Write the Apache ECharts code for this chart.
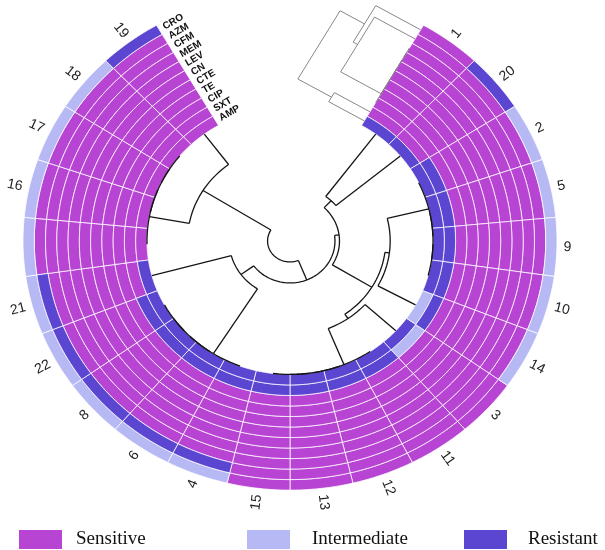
<!DOCTYPE html>
<html><head><meta charset="utf-8">
<script src="https://cdn.jsdelivr.net/npm/echarts@6/dist/echarts.min.js"></script>
<style>html,body{margin:0;padding:0;background:#fff}#c{width:605px;height:550px}</style>
</head><body><div id="c"></div>
<script>
// ---------- DATA ----------
const samples = ['1','20','2','5','9','10','14','3','11','12','13','15','4','6','8','22','21','7','16','17','18','19'];
const hiddenLabels = ['7'];
const antibiotics = ['CRO','AZM','CFM','MEM','LEV','CN','CTE','TE','CIP','SXT','AMP']; // outer -> inner
const statusNames = {S:'Sensitive', I:'Intermediate', R:'Resistant'};
const CRO = ['S','R','I','I','I','I','I','S','S','S','S','S','I','I','I','I','I','I','I','I','I','R'];
const AZM = ['S','S','S','S','S','S','S','S','S','S','S','S','R','R','R','R','R','S','S','S','S','S'];
const CFM = ['S','S','S','S','S','S','S','S','S','S','S','S','S','S','S','S','S','S','S','S','S','S'];
const MEM = ['S','S','S','S','S','S','S','S','S','S','S','S','S','S','S','S','S','S','S','S','S','S'];
const LEV = ['S','S','S','S','S','S','S','S','S','S','S','S','S','S','S','S','S','S','S','S','S','S'];
const CN  = ['S','S','S','S','S','S','S','S','S','S','S','S','S','S','S','S','S','S','S','S','S','S'];
const CTE = ['S','S','S','S','S','S','S','S','S','S','S','S','S','S','S','S','S','S','S','S','S','S'];
const TE  = ['S','S','S','S','S','S','S','S','S','S','S','S','S','S','S','S','S','S','S','S','S','S'];
const CIP = ['S','S','S','S','S','S','S','S','S','S','S','S','S','S','S','S','S','S','S','S','S','S'];
const SXT = ['S','S','R','R','R','R','R','I','R','R','R','R','R','R','R','R','S','S','S','S','S','S'];
const AMP = ['R','R','R','R','R','R','I','R','R','R','R','R','R','R','R','R','R','S','S','S','S','S'];
const ringArrays = [CRO, AZM, CFM, MEM, LEV, CN, CTE, TE, CIP, SXT, AMP];

// dendrograms: [mergeHeight, left, right]; leaves are names
const sampleTree = [10.7,
  [3.6, '19', [0, '7', [0, '16', [0, '17', '18']]]],
  [8.7,
    [7.3, '21', [0, '4', [0, '6', [0, '8', '22']]]],
    [8.3, [7.4, '1', '20'],
          [4.2, [3.8, [0, '2', [0, '5', [0, '9', '10']]], '14'],
                [3.7, '3', [0, '11', [0, '12', [0, '13', '15']]]]]]]];
const abTree = [7.1,
  [4.6, 'CRO', [4.15, 'AZM', [0, [0, [0, [0, [0, [0, 'CFM', 'MEM'], 'LEV'], 'CN'], 'CTE'], 'TE'], 'CIP']]],
  [3.65, 'SXT', 'AMP']];

// ---------- STYLE / LAYOUT CONSTANTS ----------
const COLORS = {S:'#b844d4', I:'#b7b9f5', R:'#5b46d2'};
const R0 = 12.69;        // inner radius of heatmap (ring units)
const SQUASH = 0.933;    // vertical squash of the circular layout
const GAP_FRAC = 300/360;

function P(api, cy, r, a) {
  const p = api.coord([r, a]);
  return [p[0], cy + (p[1] - cy) * SQUASH];
}

function buildSegs(tree, posOf) {
  const segs = [];
  function walk(n) {
    if (typeof n === 'string') return {a: posOf(n), h: 0};
    const L = walk(n[1]), Rr = walk(n[2]);
    const h = n[0];
    segs.push([0, h, L.a, Rr.a]);
    if (h !== L.h) segs.push([1, L.a, h, L.h]);
    if (h !== Rr.h) segs.push([1, Rr.a, h, Rr.h]);
    return {a: (L.a + Rr.a) / 2, h: h};
  }
  walk(tree);
  return segs;
}
const sampleSegs = buildSegs(sampleTree, n => samples.indexOf(n) + 0.5);
const abSegs = buildSegs(abTree, n => R0 + (antibiotics.length - 1 - antibiotics.indexOf(n)) + 0.5);

function cellsFor(code) {
  const out = [];
  ringArrays.forEach((arr, k) => arr.forEach((v, i) => {
    if (v === code) out.push([antibiotics.length - 1 - k, i]);
  }));
  return out;
}

function renderCell(params, api) {
  const cy = params.coordSys.cy;
  const ring = api.value(0), idx = api.value(1);
  const r0 = R0 + ring, r1 = r0 + 1, n = 12, pts = [];
  for (let k = 0; k <= n; k++) pts.push(P(api, cy, r1, idx + k / n));
  for (let k = n; k >= 0; k--) pts.push(P(api, cy, r0, idx + k / n));
  return {type: 'polygon', shape: {points: pts},
    style: {fill: api.visual('color'), stroke: 'rgba(255,255,255,0.85)', lineWidth: 0.9}};
}

function renderSampleDendro(params, api) {
  const cy = params.coordSys.cy;
  const kind = api.value(0), pts = [];
  if (kind === 0) {
    const r = R0 - api.value(1), a0 = api.value(2), a1 = api.value(3);
    const n = Math.max(2, Math.ceil(Math.abs(a1 - a0) * 6));
    for (let k = 0; k <= n; k++) pts.push(P(api, cy, r, a0 + (a1 - a0) * k / n));
  } else {
    const a = api.value(1);
    pts.push(P(api, cy, R0 - api.value(2), a), P(api, cy, R0 - api.value(3), a));
  }
  return {type: 'polyline', shape: {points: pts}, style: {stroke: '#151515', lineWidth: 1.3, fill: null}};
}

function renderAbDendro(params, api) {
  const cy = params.coordSys.cy, cx = params.coordSys.cx;
  const c0 = api.coord([0, 0]), c1 = api.coord([1, 0]);
  const pxu = Math.hypot(c1[0] - c0[0], c1[1] - c0[1]);
  function Q(u, h) {
    const b = api.coord([u, 0]);
    const dx = b[0] - cx, dy = b[1] - cy, L = Math.hypot(dx, dy);
    const tx = dy / L, ty = -dx / L; // CCW tangent
    const x = b[0] + tx * h * pxu, y = b[1] + ty * h * pxu;
    return [x, cy + (y - cy) * SQUASH];
  }
  const kind = api.value(0);
  let pts;
  if (kind === 0) pts = [Q(api.value(2), api.value(1)), Q(api.value(3), api.value(1))];
  else pts = [Q(api.value(1), api.value(2)), Q(api.value(1), api.value(3))];
  return {type: 'polyline', shape: {points: pts}, style: {stroke: '#7a7a7a', lineWidth: 0.9, fill: null}};
}

function renderSampleLabel(params, api) {
  const cy = params.coordSys.cy, cx = params.coordSys.cx;
  const i = api.value(1);
  const name = samples[i];
  if (hiddenLabels.indexOf(name) >= 0) return null;
  const p = P(api, cy, R0 + antibiotics.length + 0.6, i + 0.5);
  const th = Math.atan2(-(p[1] - cy), p[0] - cx);
  const right = Math.cos(th) >= 0;
  return {type: 'text', x: p[0], y: p[1], rotation: right ? th : th - Math.PI,
    style: {text: name, fontSize: 14, fontFamily: 'Liberation Sans, Arial, sans-serif', fill: '#1e1e1e',
      align: right ? 'left' : 'right', verticalAlign: 'middle'}};
}

function renderAbLabel(params, api) {
  const cy = params.coordSys.cy, cx = params.coordSys.cx;
  const k = api.value(1);
  const u = R0 + (antibiotics.length - 1 - k) + 0.5;
  const b = api.coord([u, samples.length]);
  const dx = b[0] - cx, dy = b[1] - cy, L = Math.hypot(dx, dy);
  const tx = -dy / L, ty = dx / L; // CW tangent (into the gap)
  const x = b[0] + tx * 5, y = cy + (b[1] + ty * 5 - cy) * SQUASH;
  const th = Math.atan2(-(y - cy), x - cx);
  return {type: 'text', x: x, y: y, rotation: th - Math.PI / 2,
    style: {text: antibiotics[k], fontSize: 10, fontWeight: 'bold', fontFamily: 'Liberation Sans, Arial, sans-serif',
      fill: '#111', align: 'left', verticalAlign: 'middle'}};
}

const chart = echarts.init(document.getElementById('c'));
function legendText(padLeft) {
  return {fontFamily: 'Liberation Serif, Times New Roman, serif', fontSize: 19, color: '#111', padding: [0, 0, 0, padLeft]};
}
const legendBase = {top: 530, padding: 0, itemWidth: 43, itemHeight: 19, icon: 'rect'};
const option = {
  animation: false,
  polar: {center: [290, 241], radius: 267},
  angleAxis: {type: 'value', min: 0, max: samples.length / GAP_FRAC, startAngle: 60, clockwise: true, show: false},
  radiusAxis: {type: 'value', min: 0, max: R0 + antibiotics.length, show: false},
  legend: [
    Object.assign({data: ['Sensitive'], left: 19, textStyle: legendText(9)}, legendBase),
    Object.assign({data: ['Intermediate'], left: 247, textStyle: legendText(17)}, legendBase),
    Object.assign({data: ['Resistant'], left: 464, textStyle: legendText(16)}, legendBase)
  ],
  series: [
    ...['S', 'I', 'R'].map(code => ({
      type: 'custom', name: statusNames[code], coordinateSystem: 'polar',
      itemStyle: {color: COLORS[code]}, renderItem: renderCell, data: cellsFor(code), silent: true
    })),
    {type: 'custom', coordinateSystem: 'polar', renderItem: renderSampleDendro, data: sampleSegs, silent: true},
    {type: 'custom', coordinateSystem: 'polar', renderItem: renderAbDendro, data: abSegs, silent: true},
    {type: 'custom', coordinateSystem: 'polar', renderItem: renderSampleLabel,
      data: samples.map((s, i) => [0, i]), silent: true},
    {type: 'custom', coordinateSystem: 'polar', renderItem: renderAbLabel,
      data: antibiotics.map((s, k) => [0, k]), silent: true}
  ]
};
chart.setOption(option);
</script>
</body></html>
